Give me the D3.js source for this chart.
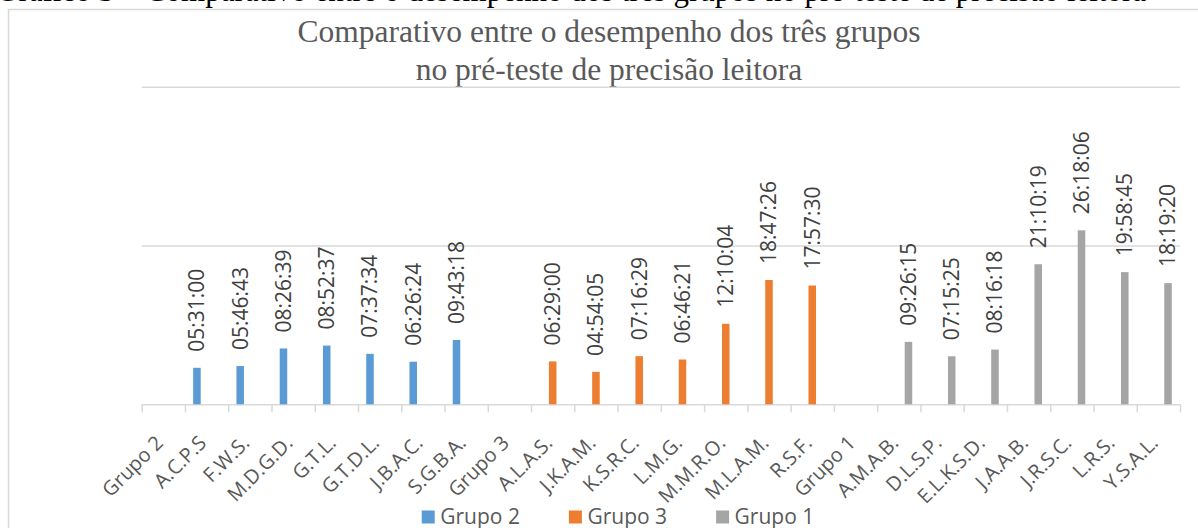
<!DOCTYPE html>
<html>
<head>
<meta charset="utf-8">
<script src="https://cdnjs.cloudflare.com/ajax/libs/d3/7.8.5/d3.min.js"></script>
<style>
  body { margin: 0; background: #fff; }
  svg { display: block; }
</style>
</head>
<body>
<svg id="chart" width="1198" height="528"></svg>
<script>
// x categories: a header slot for each group followed by its students
const categories = ["Grupo 2", "A.C.P.S", "F.W.S.", "M.D.G.D.", "G.T.L.", "G.T.D.L.", "J.B.A.C.", "S.G.B.A.",
  "Grupo 3", "A.L.A.S.", "J.K.A.M.", "K.S.R.C.", "L.M.G.", "M.M.R.O.", "M.L.A.M.", "R.S.F.",
  "Grupo 1", "A.M.A.B.", "D.L.S.P.", "E.L.K.S.D.", "J.A.A.B.", "J.R.S.C.", "L.R.S.", "Y.S.A.L."];

const seriesNames = ["Grupo 2", "Grupo 3", "Grupo 1"];
const seriesColors = ["#5b9bd5", "#ed7d31", "#a5a5a5"];

// times (hh:mm:ss)
const grupo2Names = ["A.C.P.S", "F.W.S.", "M.D.G.D.", "G.T.L.", "G.T.D.L.", "J.B.A.C.", "S.G.B.A."];
const grupo2Times = ["05:31:00", "05:46:43", "08:26:39", "08:52:37", "07:37:34", "06:26:24", "09:43:18"];
const grupo3Names = ["A.L.A.S.", "J.K.A.M.", "K.S.R.C.", "L.M.G.", "M.M.R.O.", "M.L.A.M.", "R.S.F."];
const grupo3Times = ["06:29:00", "04:54:05", "07:16:29", "06:46:21", "12:10:04", "18:47:26", "17:57:30"];
const grupo1Names = ["A.M.A.B.", "D.L.S.P.", "E.L.K.S.D.", "J.A.A.B.", "J.R.S.C.", "L.R.S.", "Y.S.A.L."];
const grupo1Times = ["09:26:15", "07:15:25", "08:16:18", "21:10:19", "26:18:06", "19:58:45", "18:19:20"];

// gridlines in hours (0, 1 day, 2 days)
const yTicks = [0, 24, 48];

const titleLines = ["Comparativo entre o desempenho dos três grupos", "no pré-teste de precisão leitora"];
const headerText = "Gráfico 3 – Comparativo entre o desempenho dos três grupos no pré-teste de precisão leitora";

const toHours = s => { const p = s.split(":").map(Number); return p[0] + p[1] / 60 + p[2] / 3600; };

const data = [];
[[grupo2Names, grupo2Times], [grupo3Names, grupo3Times], [grupo1Names, grupo1Times]].forEach((s, i) => {
  s[0].forEach((n, j) => data.push({ cat: n, series: seriesNames[i], label: s[1][j], v: toHours(s[1][j]) }));
});

const svg = d3.select("#chart");
const plot = { left: 141.7, right: 1180, top: 86.8, bottom: 404.3 };

// caption of the document page, cut off by the top edge as in the source
svg.append("text")
  .attr("x", -4).attr("y", 1)
  .attr("font-family", "Liberation Serif, serif")
  .attr("font-size", 31).attr("fill", "#000")
  .text(headerText);

// chart frame
svg.append("rect")
  .attr("x", 8.5).attr("y", 9.5).attr("width", 1208).attr("height", 540)
  .attr("fill", "#fff").attr("stroke", "#d9d9d9").attr("stroke-width", 1.5);

// title
svg.append("g").selectAll("text").data(titleLines).join("text")
  .attr("x", 609).attr("y", (d, i) => 41.5 + i * 38.5)
  .attr("text-anchor", "middle")
  .attr("font-family", "Liberation Serif, serif")
  .attr("font-size", 31.5).attr("fill", "#595959")
  .text(d => d);

const x0 = d3.scaleBand().domain(categories).range([plot.left, plot.right]).padding(0);
const bw = x0.bandwidth();
const x1 = d3.scaleBand().domain(seriesNames).range([-bw * 0.335, bw * 0.335]);
const barW = x1.bandwidth() * 0.78;
const color = d3.scaleOrdinal().domain(seriesNames).range(seriesColors);

const y = d3.scaleLinear().domain([0, 48]).range([plot.bottom, plot.top]);

// gridlines
const grid = svg.append("g")
  .attr("transform", "translate(" + plot.left + ",0)")
  .call(d3.axisLeft(y).tickValues(yTicks).tickSize(-(plot.right - plot.left)).tickFormat(""));
grid.select(".domain").remove();
grid.selectAll("line").attr("stroke", "#d9d9d9").attr("stroke-width", 1.5);

// tick marks between categories
const idx = d3.scaleLinear().domain([0, categories.length]).range([plot.left, plot.right]);
const ticks = svg.append("g")
  .attr("transform", "translate(0," + plot.bottom + ")")
  .call(d3.axisBottom(idx).ticks(categories.length).tickSize(8).tickFormat(""));
ticks.select(".domain").remove();
ticks.selectAll("line").attr("stroke", "#d9d9d9").attr("stroke-width", 1.5);

// category labels
const xAxis = svg.append("g")
  .attr("transform", "translate(0," + plot.bottom + ")")
  .call(d3.axisBottom(x0).tickSize(0));
xAxis.select(".domain").remove();
xAxis.selectAll("text")
  .attr("x", 0).attr("y", 0).attr("dy", "0.35em")
  .attr("transform", "translate(-4,35) rotate(-45)")
  .attr("text-anchor", "end")
  .attr("font-family", "Open Sans, sans-serif")
  .attr("font-size", 20).attr("fill", "#595959");

// bars
const cx = d => x0(d.cat) + bw / 2 + x1(d.series) + x1.bandwidth() / 2;
svg.append("g").selectAll("rect").data(data).join("rect")
  .attr("x", d => cx(d) - barW / 2)
  .attr("y", d => y(d.v))
  .attr("width", barW)
  .attr("height", d => plot.bottom - y(d.v))
  .attr("fill", d => color(d.series));

// data labels
svg.append("g").selectAll("text").data(data).join("text")
  .attr("transform", d => "translate(" + cx(d) + "," + (y(d.v) - 16) + ") rotate(-90)")
  .attr("dy", "0.35em")
  .attr("font-family", "Open Sans, sans-serif")
  .attr("font-size", 21).attr("fill", "#404040")
  .text(d => d.label);

// legend
const legend = svg.append("g");
const items = legend.selectAll("g").data(seriesNames).join("g");
items.append("rect").attr("width", 13).attr("height", 13).attr("y", 510.5)
  .attr("fill", d => color(d));
items.append("text").attr("x", 18.5).attr("y", 523.5)
  .attr("font-family", "Open Sans, sans-serif")
  .attr("font-size", 21).attr("fill", "#595959")
  .text(d => d);
let pos = 0;
const offs = [];
items.each(function () {
  offs.push(pos);
  pos += 18.5 + this.querySelector("text").getComputedTextLength() + 49;
});
const total = pos - 49;
items.attr("transform", (d, i) => "translate(" + (618 - total / 2 + offs[i]) + ",0)");
</script>
</body>
</html>
